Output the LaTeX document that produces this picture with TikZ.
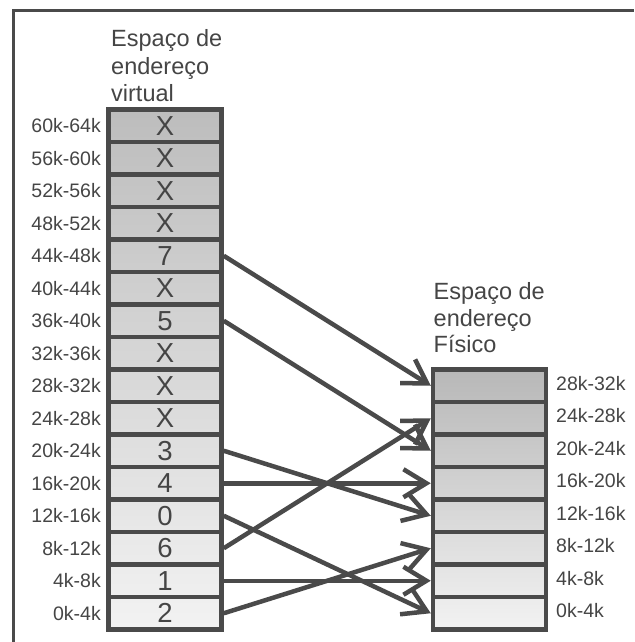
\documentclass[tikz,border=0pt]{standalone}
\usepackage{fontspec}
\setmainfont{Liberation Sans}
\usetikzlibrary{arrows.meta}
\definecolor{lc}{HTML}{4A4A4A}
\definecolor{tc}{HTML}{454545}
\begin{document}
\begin{tikzpicture}[x=1pt,y=-1pt,
  cell/.style={draw=lc, line width=4.5pt, minimum width=113pt, minimum height=32.5pt, inner sep=0pt, font=\fontsize{27.5}{27.5}\selectfont, text=tc},
  addr/.style={inner sep=0pt, font=\fontsize{19.5}{19.5}\selectfont, text=tc},
  ttl/.style={inner sep=0pt, anchor=base west, font=\fontsize{23.5}{27}\selectfont, text=tc},
  map/.style={draw=lc, line width=4.5pt, -{Straight Barb[length=23pt,width=28pt]}},
  frame/.style={draw=lc, line width=3pt}
]
\useasboundingbox (0,0) rectangle (634,642);
\draw[frame] (13.5,642) -- (13.5,10.5) -- (634,10.5);

% virtual address space
\foreach \t [count=\i from 0] in {X,X,X,X,7,X,5,X,X,X,3,4,0,6,1,2} {
  \pgfmathsetmacro\ta{26-21*\i/16}
  \pgfmathsetmacro\tb{26-21*(\i+1)/16}
  \pgfmathtruncatemacro\hi{64-4*\i}
  \pgfmathtruncatemacro\lo{60-4*\i}
  \node[cell, top color=black!\ta, bottom color=black!\tb] (v\i) at (165, 125.75+32.5*\i) {\t};
  \node[addr, anchor=east] (vl\i) at (101, 125.75+32.5*\i) {\lo k-\hi k};
}

% physical address space
\foreach \j in {0,...,7} {
  \pgfmathsetmacro\ta{28-23*\j/8}
  \pgfmathsetmacro\tb{28-23*(\j+1)/8}
  \pgfmathtruncatemacro\hi{32-4*\j}
  \pgfmathtruncatemacro\lo{28-4*\j}
  \node[cell, top color=black!\ta, bottom color=black!\tb] (p\j) at (489.5, 385.75+32.5*\j) {};
  \node[addr, anchor=west] (pl\j) at (556, 383.5+32.5*\j) {\lo k-\hi k};
}

% titles
\node[ttl] (vt1) at (111,46.7) {Espaço de};
\node[ttl] (vt2) at (111,74.5) {endereço};
\node[ttl] (vt3) at (111,101.5) {virtual};
\node[ttl] (pt1) at (433.5,299.3) {Espaço de};
\node[ttl] (pt2) at (433.5,326) {endereço};
\node[ttl] (pt3) at (433.5,352.7) {Físico};

% mappings
\draw[map] (v4.east) -- (p0.west);
\draw[map] (v6.east) -- (p2.west);
\draw[map] (v10.east) -- (p4.west);
\draw[map] (v11.east) -- (p3.west);
\draw[map] (v12.east) -- (p7.west);
\draw[map] (v13.east) -- (p1.west);
\draw[map] (v14.east) -- (p6.west);
\draw[map] (v15.east) -- (p5.west);
\end{tikzpicture}
\end{document}
